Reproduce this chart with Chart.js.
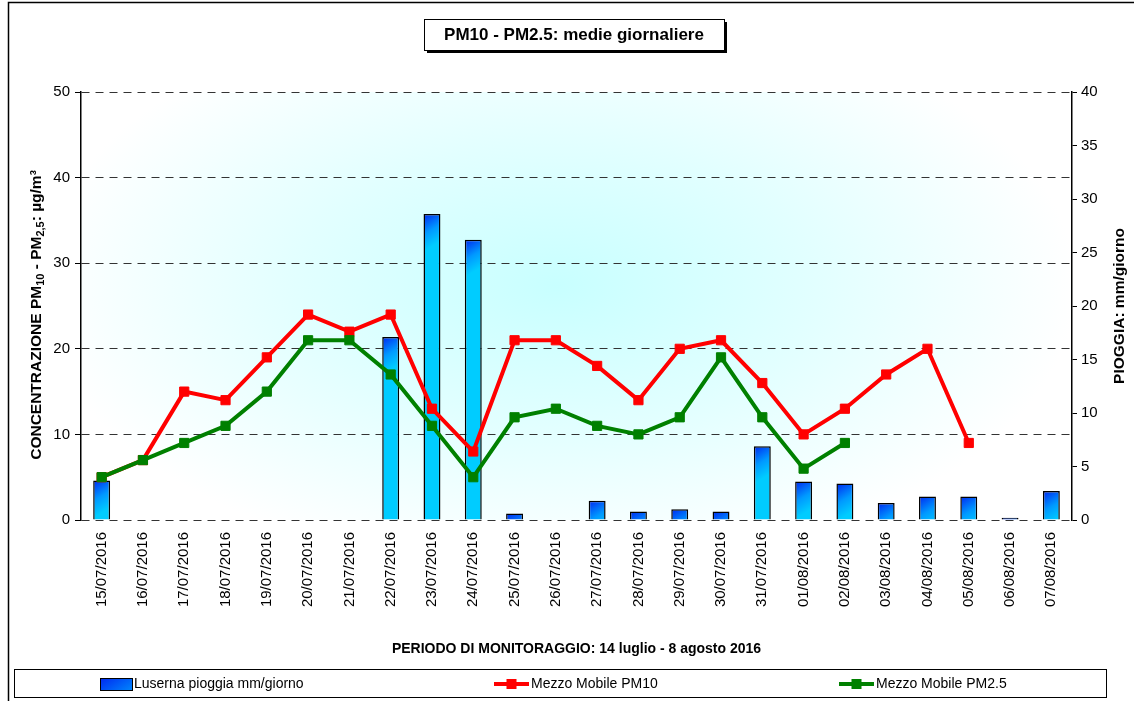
<!DOCTYPE html>
<html>
<head>
<meta charset="utf-8">
<title>PM10 - PM2.5: medie giornaliere</title>
<script src="https://cdn.jsdelivr.net/npm/chart.js@4/dist/chart.umd.min.js"></script>
<style>
    html, body { margin: 0; padding: 0; background: #fff; }
    #wrap { width: 1134px; height: 701px; }
</style>
</head>
<body>
<div id="wrap"><canvas id="pmChart" width="1134" height="701"></canvas></div>
<script>
// ========== DATA ==========
const days = ['15/07/2016', '16/07/2016', '17/07/2016', '18/07/2016', '19/07/2016', '20/07/2016',
    '21/07/2016', '22/07/2016', '23/07/2016', '24/07/2016', '25/07/2016', '26/07/2016',
    '27/07/2016', '28/07/2016', '29/07/2016', '30/07/2016', '31/07/2016', '01/08/2016',
    '02/08/2016', '03/08/2016', '04/08/2016', '05/08/2016', '06/08/2016', '07/08/2016'];

const rain = [3.7, null, null, null, null, null, null, 17.1, 28.6, 26.2, 0.6, null,
    1.8, 0.8, 1.0, 0.8, 6.9, 3.6, 3.4, 1.6, 2.2, 2.2, 0.2, 2.7];

const pm10 = [5, 7, 15, 14, 19, 24, 22, 24, 13, 8, 21, 21,
    18, 14, 20, 21, 16, 10, 13, 17, 20, 9, null, null];

const pm25 = [5, 7, 9, 11, 15, 21, 21, 17, 11, 5, 12, 13,
    11, 10, 12, 19, 12, 6, 9, null, null, null, null, null];

const leftTicks = [0, 10, 20, 30, 40, 50];
const rightTicks = [0, 5, 10, 15, 20, 25, 30, 35, 40];

const chartTitle = 'PM10 - PM2.5: medie giornaliere';
const xTitle = 'PERIODO DI MONITORAGGIO: 14 luglio - 8 agosto 2016';
// left title pieces: [text, isSubscript]
const leftTitle = [['CONCENTRAZIONE PM', false], ['10', true], [' - PM', false], ['2,5', true], [': \u00b5g/m\u00b3', false]];
const rightTitle = 'PIOGGIA: mm/giorno';
const legendNames = ['Luserna pioggia mm/giorno', 'Mezzo Mobile PM10', 'Mezzo Mobile PM2.5'];

const FONT = '"Liberation Sans", Arial, Helvetica, sans-serif';

// bar fill: dark blue top-left fading into cyan
function barGradient(ctx, left, top, w) {
    const g = ctx.createLinearGradient(left, top, left + w, top + w * 1.6);
    g.addColorStop(0, '#0028f0');
    g.addColorStop(0.55, '#0099ff');
    g.addColorStop(1, '#00ccff');
    return g;
}

// ========== CUSTOM DRAWING ==========
const decorations = {
    id: 'decorations',
    beforeDraw(chart) {
        const ctx = chart.ctx;
        const a = chart.chartArea;
        ctx.save();
        ctx.fillStyle = '#fff';
        ctx.fillRect(0, 0, chart.width, chart.height);

        // outer frame
        ctx.strokeStyle = '#000';
        ctx.lineWidth = 1.5;
        ctx.beginPath();
        ctx.moveTo(8.5, chart.height);
        ctx.lineTo(8.5, 2.5);
        ctx.lineTo(chart.width, 2.5);
        ctx.stroke();

        // plot area radial glow
        const cx = (a.left + a.right) / 2 - 20;
        const cy = (a.top + a.bottom) / 2 - 20;
        ctx.beginPath();
        ctx.rect(a.left, a.top, a.right - a.left, a.bottom - a.top);
        ctx.clip();
        ctx.translate(cx, cy);
        ctx.scale(1, 0.55);
        const g = ctx.createRadialGradient(0, 0, 0, 0, 0, 520);
        g.addColorStop(0, '#c8ffff');
        g.addColorStop(0.5, '#e2ffff');
        g.addColorStop(1, '#ffffff');
        ctx.fillStyle = g;
        ctx.fillRect(-700, -700, 1400, 1400);
        ctx.restore();
    },
    afterDraw(chart) {
        const ctx = chart.ctx;
        const a = chart.chartArea;
        ctx.save();

        // title box with shadow
        const bx = 424, by = 19, bw = 300, bh = 31;
        ctx.fillStyle = '#000';
        ctx.fillRect(bx + 3, by + 3, bw, bh);
        ctx.fillStyle = '#fff';
        ctx.fillRect(bx, by, bw, bh);
        ctx.strokeStyle = '#000';
        ctx.lineWidth = 1;
        ctx.strokeRect(bx + 0.5, by + 0.5, bw, bh);
        ctx.fillStyle = '#000';
        ctx.font = 'bold 17px ' + FONT;
        ctx.textAlign = 'center';
        ctx.textBaseline = 'middle';
        ctx.fillText(chartTitle, bx + bw / 2, by + bh / 2 + 1);

        // left axis title with subscripts, read bottom to top
        const mainFont = 'bold 15.5px ' + FONT;
        const subFont = 'bold 11px ' + FONT;
        let total = 0;
        leftTitle.forEach(function(p) {
            ctx.font = p[1] ? subFont : mainFont;
            total += ctx.measureText(p[0]).width;
        });
        ctx.save();
        ctx.translate(37, 315);
        ctx.rotate(-Math.PI / 2);
        ctx.textAlign = 'left';
        let pos = -total / 2;
        leftTitle.forEach(function(p) {
            ctx.font = p[1] ? subFont : mainFont;
            ctx.fillText(p[0], pos, p[1] ? 4 : 0);
            pos += ctx.measureText(p[0]).width;
        });
        ctx.restore();

        // right axis title
        ctx.font = 'bold 15.5px ' + FONT;
        ctx.save();
        ctx.translate(1120, 306);
        ctx.rotate(-Math.PI / 2);
        ctx.fillText(rightTitle, 0, 0);
        ctx.restore();

        ctx.font = 'bold 14px ' + FONT;
        ctx.fillText(xTitle, (a.left + a.right) / 2, 649);

        // legend box
        ctx.lineWidth = 1;
        ctx.strokeRect(14.5, 669.5, 1092, 28);
        const ly = 684;
        ctx.font = '14px ' + FONT;
        ctx.textAlign = 'left';

        // rain swatch
        ctx.fillStyle = barGradient(ctx, 100, ly - 6, 32);
        ctx.fillRect(100, ly - 6, 32, 12);
        ctx.strokeRect(100.5, ly - 5.5, 32, 12);
        ctx.fillStyle = '#000';
        ctx.fillText(legendNames[0], 134, ly);

        // line swatches
        const lines = [[494, '#ff0000', legendNames[1]], [839, '#008000', legendNames[2]]];
        lines.forEach(function(item) {
            const x = item[0];
            ctx.strokeStyle = item[1];
            ctx.lineWidth = 4;
            ctx.beginPath();
            ctx.moveTo(x, ly);
            ctx.lineTo(x + 35, ly);
            ctx.stroke();
            ctx.fillStyle = item[1];
            ctx.fillRect(x + 12.5, ly - 5, 10, 10);
            ctx.fillStyle = '#000';
            ctx.fillText(item[2], x + 37, ly);
        });
        ctx.restore();
    }
};

// ========== CHART ==========
const canvas = document.getElementById('pmChart');
new Chart(canvas, {
    data: {
        labels: days,
        datasets: [{
            type: 'line',
            label: legendNames[2],
            data: pm25,
            yAxisID: 'y',
            borderColor: '#008000',
            backgroundColor: '#008000',
            borderWidth: 4,
            pointStyle: 'rect',
            pointRadius: 6.5,
            pointBorderWidth: 1,
            pointBackgroundColor: '#008000',
            pointBorderColor: '#008000',
            tension: 0,
            order: 0
        }, {
            type: 'line',
            label: legendNames[1],
            data: pm10,
            yAxisID: 'y',
            borderColor: '#ff0000',
            backgroundColor: '#ff0000',
            borderWidth: 4,
            pointStyle: 'rect',
            pointRadius: 6.5,
            pointBorderWidth: 1,
            pointBackgroundColor: '#ff0000',
            pointBorderColor: '#ff0000',
            tension: 0,
            order: 1
        }, {
            type: 'bar',
            label: legendNames[0],
            data: rain,
            yAxisID: 'y1',
            borderColor: '#000',
            borderWidth: 1.5,
            categoryPercentage: 1,
            barPercentage: 0.41,
            backgroundColor: function(context) {
                const chart = context.chart;
                if (context.type !== 'data' || context.raw == null || !chart.chartArea) {
                    return '#00aaff';
                }
                const xs = chart.scales.x;
                const w = xs.width / days.length * 0.41;
                const x = xs.getPixelForValue(context.dataIndex);
                const top = chart.scales.y1.getPixelForValue(context.raw);
                return barGradient(chart.ctx, x - w / 2, top, w);
            },
            order: 2
        }]
    },
    options: {
        responsive: false,
        animation: false,
        layout: { padding: { top: 92, left: 0, right: 0, bottom: 0 } },
        plugins: {
            legend: { display: false },
            tooltip: { enabled: false },
            title: { display: false }
        },
        scales: {
            x: {
                type: 'category',
                offset: true,
                grid: { display: false, drawTicks: false },
                border: { display: false },
                ticks: {
                    autoSkip: false,
                    maxRotation: 90,
                    minRotation: 90,
                    padding: 12,
                    color: '#000',
                    font: { family: FONT, size: 15 }
                },
                afterFit: function(scale) { scale.height = 181; }
            },
            y: {
                position: 'left',
                min: 0,
                max: 50,
                afterBuildTicks: function(scale) {
                    scale.ticks = leftTicks.map(v => ({ value: v }));
                },
                grid: {
                    color: '#333',
                    lineWidth: 1,
                    tickLength: 6,
                    tickColor: '#000',
                    drawTicks: true
                },
                border: { display: true, color: '#000', width: 1.5, dash: [8, 6] },
                ticks: {
                    padding: 5,
                    color: '#000',
                    font: { family: FONT, size: 15 }
                },
                afterFit: function(scale) { scale.width = 81; }
            },
            y1: {
                position: 'right',
                min: 0,
                max: 40,
                afterBuildTicks: function(scale) {
                    scale.ticks = rightTicks.map(v => ({ value: v }));
                },
                grid: {
                    drawOnChartArea: false,
                    tickLength: 5,
                    tickColor: '#000'
                },
                border: { display: true, color: '#000', width: 1.5 },
                ticks: {
                    padding: 4,
                    color: '#000',
                    font: { family: FONT, size: 15 }
                },
                afterFit: function(scale) { scale.width = 62; }
            }
        }
    },
    plugins: [decorations]
});
</script>
</body>
</html>
